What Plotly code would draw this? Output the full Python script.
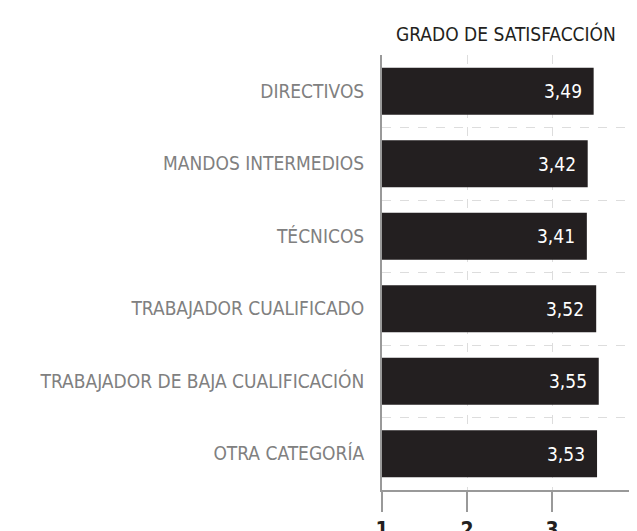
import plotly.graph_objects as go

categorias = ["DIRECTIVOS", "MANDOS INTERMEDIOS", "TÉCNICOS", "TRABAJADOR CUALIFICADO",
              "TRABAJADOR DE BAJA CUALIFICACIÓN", "OTRA CATEGORÍA"]
valores = [3.49, 3.42, 3.41, 3.52, 3.55, 3.53]
etiquetas = [f"{v:.2f}".replace(".", ",") for v in valores]
ticks_x = [1, 2, 3, 4]

fuente = "Liberation Sans Narrow, DejaVu Sans Condensed, sans-serif"

fig = go.Figure(go.Bar(
    x=valores, y=categorias, orientation="h",
    marker=dict(color="#231f20", line=dict(width=0)),
    width=0.65, base=0,
))

# valores dentro de la barra
for c, v, t in zip(categorias, valores, etiquetas):
    fig.add_annotation(x=v, y=c, text=t, showarrow=False, xanchor="right",
                       xshift=-10, font=dict(family=fuente, size=19, color="white"))

fig.add_annotation(text="GRADO DE SATISFACCIÓN", xref="paper", yref="paper",
                   x=0.485, y=1.05, showarrow=False, yanchor="middle",
                   font=dict(family=fuente, size=19, color="#231f20"))

# la página tiene 8px de margen en el body
fig.update_layout(
    width=629, height=523,
    margin=dict(l=374, r=0, t=47, b=41),
    plot_bgcolor="white", paper_bgcolor="white",
    showlegend=False,
    font=dict(family=fuente),
    xaxis=dict(range=[1, 4], tickvals=ticks_x, showgrid=True, gridcolor="#dddddd",
               griddash="dash", gridwidth=1, zeroline=False, automargin=False,
               showline=True, linecolor="#999999", linewidth=2,
               ticks="outside", ticklen=20, tickcolor="#999999", tickwidth=2,
               tickfont=dict(size=21, color="#231f20", weight="bold")),
    yaxis=dict(autorange="reversed", tickson="boundaries", showgrid=True,
               gridcolor="#dddddd", griddash="dash", gridwidth=1, automargin=False,
               showline=True, linecolor="#999999", linewidth=2,
               ticks="", ticklabelstandoff=12,
               tickfont=dict(size=19, color="#808080")),
)

fig.write_html("out.html")
